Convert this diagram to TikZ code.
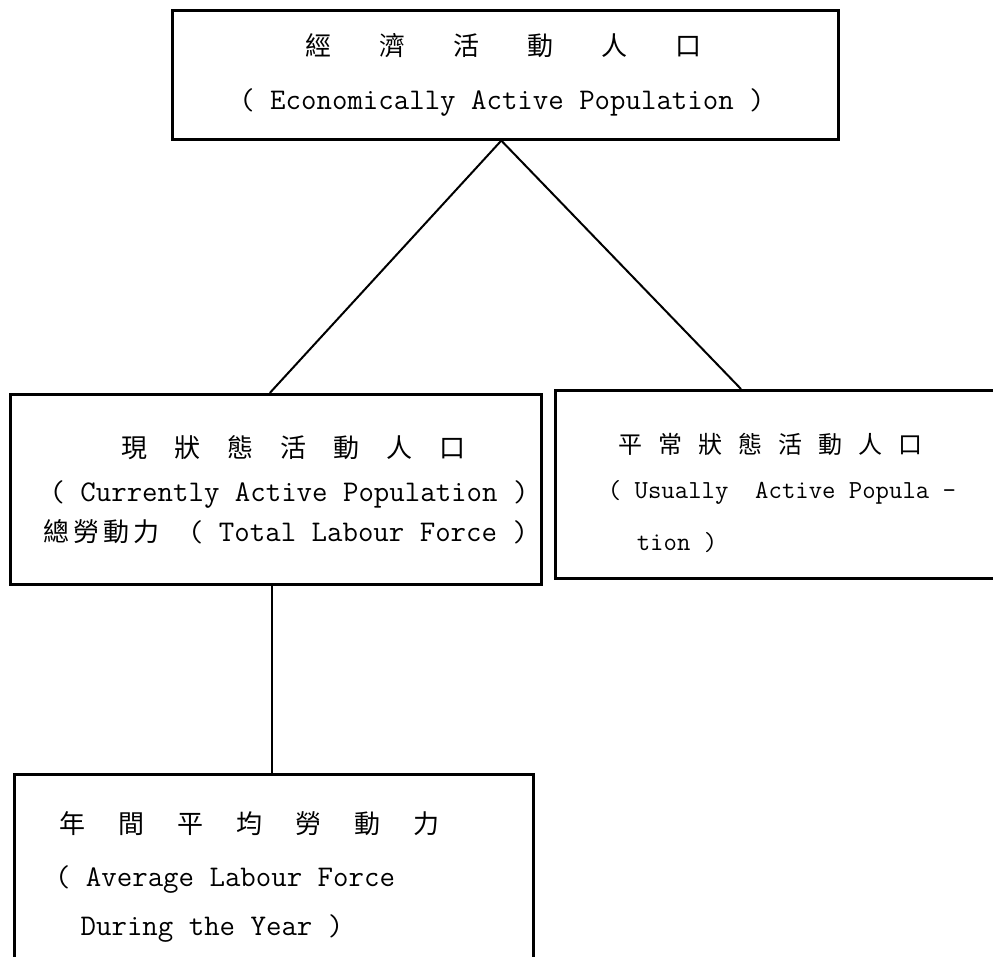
\documentclass[tikz,border=0pt]{standalone}
\usepackage{fontspec}
\newfontfamily\cjk{Noto Sans CJK TC}
\newcommand{\hanrow}[2]{\foreach \hz in {#2}{\makebox[#1][l]{\hz}}}

\begin{document}
\begin{tikzpicture} [x=1pt, y=-1pt,
  box/.style={draw, line width=2.6pt, anchor=north west, inner sep=0pt},
  link/.style={line width=2pt},
  han/.style={anchor=base west, inner sep=0pt, font=\cjk\fontsize{26}{30}\selectfont},
  eng/.style={anchor=base, inner sep=0pt, font=\ttfamily\fontsize{30}{36}\selectfont}]
\useasboundingbox (0,0) rectangle (993,957);
\clip (0,0) rectangle (993,957);
% boxes
\node[box, minimum width=666pt, minimum height=129pt] (eap) at (171,9) {};
\node[box, minimum width=531pt, minimum height=190pt] (cap) at (9,393) {};
\node[box, minimum width=460pt, minimum height=188pt] (uap) at (554,389) {};
\node[box, minimum width=519pt, minimum height=220pt] (alf) at (13,773) {};
% texts
\node[han] (eaph) at (305,56) {\hanrow{74pt}{經,濟,活,動,人,口}};
\node[eng] (eape) at (502,110) {( Economically Active Population )};
\node[han] (caph) at (121,457) {\hanrow{53pt}{現,狀,態,活,動,人,口}};
\node[eng] (cape) at (289,501) {( Currently Active Population )};
\node[han] (tlfh) at (43,541) {\hanrow{30pt}{總,勞,動,力}};
\node[eng] (tlfe) at (358,541) {( Total Labour Force )};
\node[han, font=\cjk\fontsize{24}{28}\selectfont] (uaph) at (618,453) {\hanrow{40pt}{平,常,狀,態,活,動,人,口}};
\node[eng, font=\ttfamily\fontsize{26}{32}\selectfont] (uape) at (782,498) {( Usually~ Active Popula -};
\node[eng, font=\ttfamily\fontsize{26}{32}\selectfont] (uapt) at (677,550) {tion )};
\node[han] (alfh) at (59,833) {\hanrow{59pt}{年,間,平,均,勞,動,力}};
\node[eng] (alfe) at (225,886) {( Average Labour Force};
\node[eng] (alft) at (212,935) {During the Year )};
% connectors
\draw[link] ([xshift=-4pt]eap.south) -- ([xshift=-6pt]cap.north);
\draw[link] ([xshift=-4pt]eap.south) -- ([xshift=187pt]uap.north west);
\draw[link] ([xshift=-4pt]cap.south) -- ([xshift=-4pt]cap.south |- alf.north);
\end{tikzpicture}
\end{document}
